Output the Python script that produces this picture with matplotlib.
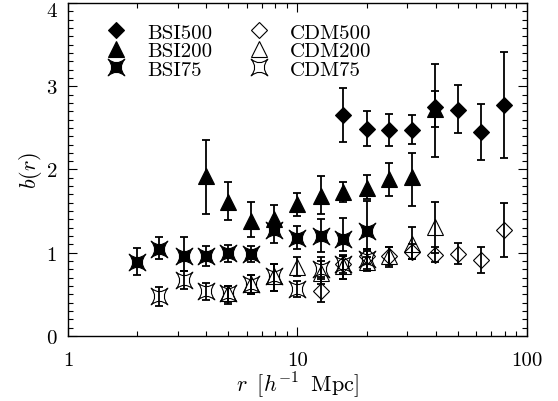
import numpy as np
import matplotlib
matplotlib.use("Agg")
import matplotlib.pyplot as plt
import matplotlib.transforms as mtransforms
from matplotlib.path import Path
from matplotlib.lines import Line2D
from matplotlib.ticker import FixedLocator, MultipleLocator, NullFormatter, FuncFormatter

plt.rcParams['font.family'] = ['cmr10', 'DejaVu Serif']
plt.rcParams['mathtext.fontset'] = 'cm'
plt.rcParams['axes.formatter.use_mathtext'] = True

# BSI runs (filled symbols)
r_bsi500 = [15.8, 20.0, 25.1, 31.6, 39.8, 50.1, 63.1, 79.4]
b_bsi500 = [2.65, 2.49, 2.47, 2.47, 2.75, 2.72, 2.45, 2.78]
hi_bsi500 = [2.98, 2.70, 2.67, 2.65, 3.27, 3.01, 2.79, 3.41]
lo_bsi500 = [2.33, 2.28, 2.28, 2.31, 2.15, 2.44, 2.11, 2.14]

r_bsi200 = [4.0, 5.0, 6.3, 7.9, 10.0, 12.6, 15.8, 20.0, 25.1, 31.6, 39.8]
b_bsi200 = [1.92, 1.61, 1.38, 1.41, 1.59, 1.68, 1.73, 1.78, 1.89, 1.91, 2.73]
hi_bsi200 = [2.35, 1.85, 1.61, 1.57, 1.72, 1.92, 1.85, 1.93, 2.08, 2.20, 2.94]
lo_bsi200 = [1.47, 1.39, 1.19, 1.25, 1.44, 1.46, 1.61, 1.64, 1.68, 1.56, 2.51]

r_bsi75 = [2.0, 2.5, 3.2, 4.0, 5.0, 6.3, 7.9, 10.0, 12.6, 15.8, 20.0]
b_bsi75 = [0.89, 1.05, 0.96, 0.96, 1.00, 0.98, 1.27, 1.18, 1.20, 1.17, 1.26]
hi_bsi75 = [1.06, 1.19, 1.19, 1.08, 1.09, 1.08, 1.36, 1.32, 1.41, 1.42, 1.62]
lo_bsi75 = [0.73, 0.93, 0.78, 0.84, 0.89, 0.89, 1.12, 1.05, 1.01, 1.02, 0.95]

# CDM runs (open symbols)
r_cdm500 = [12.6, 15.8, 20.0, 25.1, 31.6, 39.8, 50.1, 63.1, 79.4]
b_cdm500 = [0.54, 0.87, 0.96, 0.96, 1.01, 0.97, 0.98, 0.91, 1.27]
hi_cdm500 = [0.71, 0.97, 1.05, 1.07, 1.10, 1.07, 1.12, 1.07, 1.60]
lo_cdm500 = [0.41, 0.76, 0.86, 0.85, 0.92, 0.89, 0.86, 0.76, 0.95]

r_cdm200 = [5.0, 6.3, 7.9, 10.0, 12.6, 15.8, 20.0, 25.1, 31.6, 39.8]
b_cdm200 = [0.52, 0.62, 0.72, 0.83, 0.76, 0.84, 0.89, 0.96, 1.10, 1.31]
hi_cdm200 = [0.60, 0.73, 0.86, 0.95, 0.90, 0.96, 1.02, 1.07, 1.31, 1.61]
lo_cdm200 = [0.38, 0.50, 0.54, 0.72, 0.62, 0.68, 0.78, 0.83, 0.92, 1.00]

r_cdm75 = [2.5, 3.2, 4.0, 5.0, 6.3, 7.9, 10.0, 12.6, 15.8, 20.0]
b_cdm75 = [0.48, 0.67, 0.54, 0.52, 0.62, 0.72, 0.56, 0.80, 0.86, 0.93]
hi_cdm75 = [0.59, 0.78, 0.64, 0.60, 0.73, 0.86, 0.66, 0.95, 0.96, 1.05]
lo_cdm75 = [0.36, 0.57, 0.43, 0.41, 0.50, 0.54, 0.47, 0.68, 0.68, 0.80]

# four-pointed star with concave sides
c = 0.15
star = Path([(1, 1), (0, c), (-1, 1), (-c, 0), (-1, -1), (0, -c), (1, -1), (c, 0), (1, 1), (1, 1)],
            [Path.MOVETO, Path.CURVE3, Path.CURVE3, Path.CURVE3, Path.CURVE3,
             Path.CURVE3, Path.CURVE3, Path.CURVE3, Path.CURVE3, Path.CLOSEPOLY])

series = [
    ("BSI500", r_bsi500, b_bsi500, lo_bsi500, hi_bsi500, 'D', 8.5, True),
    ("BSI200", r_bsi200, b_bsi200, lo_bsi200, hi_bsi200, '^', 12, True),
    ("BSI75", r_bsi75, b_bsi75, lo_bsi75, hi_bsi75, star, 12, True),
    ("CDM500", r_cdm500, b_cdm500, lo_cdm500, hi_cdm500, 'D', 8.5, False),
    ("CDM200", r_cdm200, b_cdm200, lo_cdm200, hi_cdm200, '^', 12, False),
    ("CDM75", r_cdm75, b_cdm75, lo_cdm75, hi_cdm75, star, 12, False),
]

fig = plt.figure(figsize=(5.58, 4.02), dpi=100)
ax = fig.add_axes([0.1219, 0.1617, 0.8225, 0.8284])

handles = []
for name, r, b, lo, hi, mk, ms, filled in series:
    b = np.array(b)
    yerr = [b - np.array(lo), np.array(hi) - b]
    ax.errorbar(r, b, yerr=yerr, fmt='none', ecolor='k', elinewidth=1.3,
                capsize=3, capthick=1.3)
    fc = 'k' if filled else 'none'
    ax.plot(r, b, linestyle='none', marker=mk, ms=ms, mfc=fc, mec='k',
            mew=0.8)
    handles.append(Line2D([], [], linestyle='none', marker=mk, ms=ms,
                          mfc=fc, mec='k', mew=0.8, label=name))

ax.set_xscale('log')
ax.set_xlim(1, 100)
ax.set_ylim(0, 4)
ax.xaxis.set_major_locator(FixedLocator([1, 10, 100]))
ax.set_xticklabels(['1', '10', '100'])
ax.xaxis.set_minor_formatter(NullFormatter())
ax.yaxis.set_major_locator(MultipleLocator(1))
ax.yaxis.set_minor_locator(MultipleLocator(0.1))
# the top label "4" is drawn separately, hanging below the frame edge
ax.yaxis.set_major_formatter(FuncFormatter(lambda v, p: '' if v > 3.5 else '%d' % v))
ax.tick_params(which='both', direction='in', top=True, right=True, labelsize=15)
ax.tick_params(which='major', length=6.5, width=0.8)
ax.tick_params(axis='x', which='major', pad=11)
ax.tick_params(axis='y', which='major', pad=8)
ax.tick_params(which='minor', length=3.5, width=0.8)
for s in ax.spines.values():
    s.set_linewidth(1.0)

lab_tr = mtransforms.blended_transform_factory(ax.transAxes, ax.transData) + \
    mtransforms.ScaledTranslation(-8 / 72, 1 / 72, fig.dpi_scale_trans)
ax.text(0, 4, '4', transform=lab_tr, ha='right', va='top', fontsize=15)

ax.set_xlabel(r'$r\;\;[h^{-1}\;\;\mathrm{Mpc}]$', fontsize=16, labelpad=0)
ax.set_ylabel(r'$b(r)$', fontsize=16, labelpad=2)

leg = ax.legend(handles=handles, ncol=2, loc='upper left',
                bbox_to_anchor=(0.06, 0.965), frameon=False, fontsize=15,
                handlelength=1.2, handletextpad=0.9, columnspacing=1.6,
                labelspacing=0.0, borderaxespad=0.0)

fig.savefig('out.png', dpi=100)
